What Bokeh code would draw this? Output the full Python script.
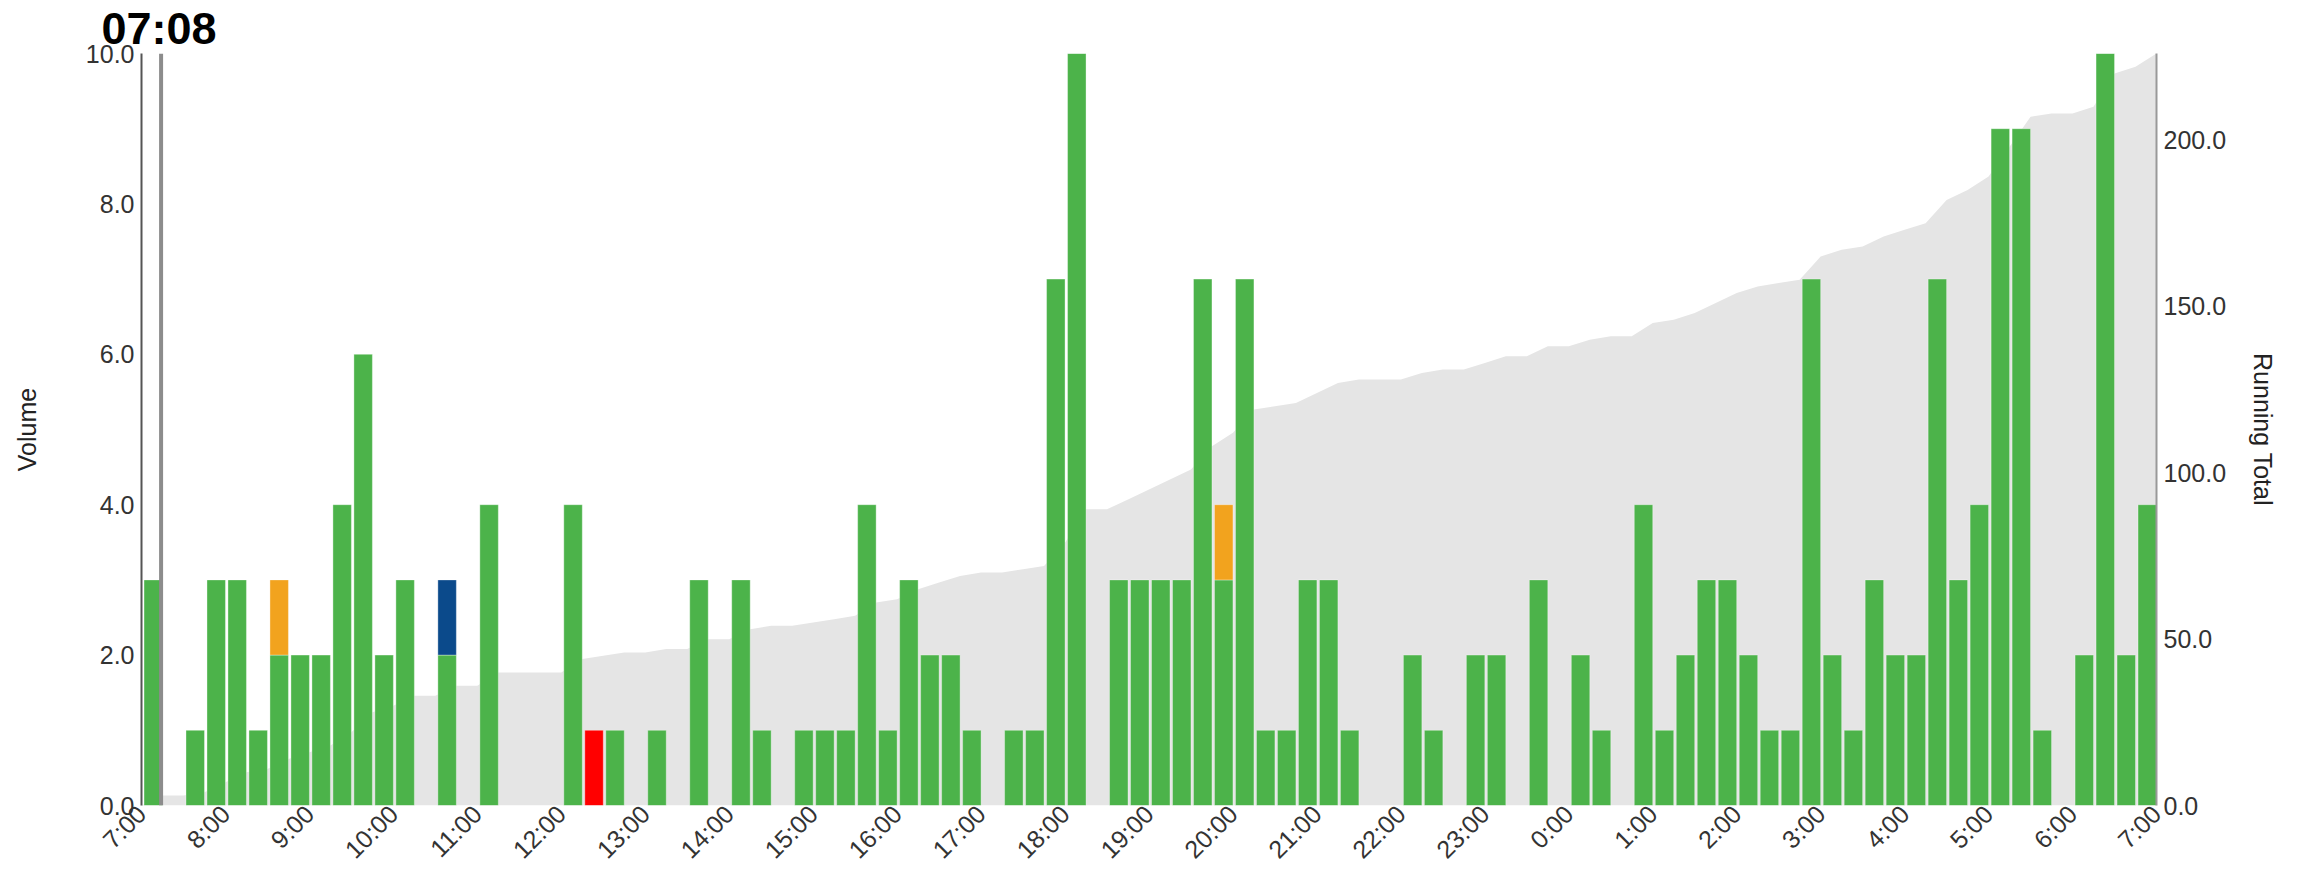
import math
import numpy as np
from bokeh.plotting import figure
from bokeh.models import (Range1d, LinearAxis, FixedTicker, Span,
                          NumeralTickFormatter)
from bokeh.embed import file_html
from bokeh.resources import INLINE

# ---------------- data ----------------
title_text = "07:08"
bin_minutes = 15
hour_labels = ["7:00", "8:00", "9:00", "10:00", "11:00", "12:00", "13:00",
               "14:00", "15:00", "16:00", "17:00", "18:00", "19:00", "20:00",
               "21:00", "22:00", "23:00", "0:00", "1:00", "2:00", "3:00",
               "4:00", "5:00", "6:00", "7:00"]

# green volume per 15-minute bin, starting 7:00
green = [
    3, 0, 1, 3, 3, 1, 2, 2, 2, 4, 6, 2, 3, 0, 2, 0,
    4, 0, 0, 0, 4, 0, 1, 0, 1, 0, 3, 0, 3, 1, 0, 1,
    1, 1, 4, 1, 3, 2, 2, 1, 0, 1, 1, 7, 10, 0, 3, 3,
    3, 3, 7, 3, 7, 1, 1, 3, 3, 1, 0, 0, 2, 1, 0, 2,
    2, 0, 3, 0, 2, 1, 0, 4, 1, 2, 3, 3, 2, 1, 1, 7,
    2, 1, 3, 2, 2, 7, 3, 4, 9, 9, 1, 0, 2, 10, 2, 4,
]
orange_bins = [6, 51]
orange_vals = [1, 1]
blue_bins = [14]
blue_vals = [1]
red_bins = [21]
red_vals = [1]

now_minute = 14          # marker line (minutes after 7:00)
volume_ticks = [0, 2, 4, 6, 8, 10]
total_ticks = [0, 50, 100, 150, 200]

# ---------------- derived ----------------
n = len(green)
g = np.array(green, dtype=float)
o = np.zeros(n); o[orange_bins] = orange_vals
b = np.zeros(n); b[blue_bins] = blue_vals
r = np.zeros(n); r[red_bins] = red_vals
per_bin = g + o + b + r
cum = np.cumsum(per_bin)

starts = np.arange(n) * bin_minutes
ends = starts + bin_minutes

GREEN = "#4cb34a"
ORANGE = "#f2a31e"
BLUE = "#0b4a8b"
RED = "#ff0000"
FONT = "Liberation Sans"

p = figure(frame_width=2015, frame_height=752,
           x_range=Range1d(0, n * bin_minutes), y_range=Range1d(0, 10),
           output_backend="svg", toolbar_location=None,
           min_border_left=141, min_border_right=130,
           min_border_top=10, min_border_bottom=64)
p.extra_y_ranges = {"total": Range1d(0, float(cum[-1]))}
p.outline_line_color = None
p.xgrid.grid_line_color = None
p.ygrid.grid_line_color = None

# title
p.title.text = title_text
p.title.text_font = FONT
p.title.text_font_size = "45px"
p.title.text_font_style = "bold"
p.title.text_color = "black"
p.title.align = "left"
p.title.offset = -40
p.title.standoff = 0

# running total area
area_x = np.concatenate([[0], ends])
area_y = np.concatenate([[0], cum])
p.varea(x=area_x, y1=0, y2=area_y, y_range_name="total", fill_color="#e5e5e5")

def draw(bottom, height, color):
    m = height > 0
    p.quad(left=starts[m] + 1.8, right=ends[m], bottom=bottom[m],
           top=(bottom + height)[m], fill_color=color,
           line_color="white", line_alpha=0.35, line_width=1)

zero = np.zeros(n)
draw(zero, g, GREEN)
draw(g, o, ORANGE)
draw(g + o, b, BLUE)
draw(g + o + b, r, RED)

p.add_layout(Span(location=now_minute, dimension="height",
                  line_color="#8c8c8c", line_width=4))

# x axis
xa = p.xaxis[0]
xa.ticker = FixedTicker(ticks=[i * 60 for i in range(len(hour_labels))])
xa.major_label_overrides = {i * 60: lab for i, lab in enumerate(hour_labels)}
xa.major_label_orientation = math.pi / 4
xa.axis_line_color = None
xa.major_tick_line_color = None
xa.minor_tick_line_color = None
xa.major_tick_in = 0
xa.major_tick_out = 0
xa.major_label_standoff = 4
xa.major_label_text_font = FONT
xa.major_label_text_font_size = "25px"
xa.major_label_text_color = "#333333"

# left axis
ya = p.yaxis[0]
ya.ticker = FixedTicker(ticks=volume_ticks)
ya.formatter = NumeralTickFormatter(format="0.0")
ya.axis_line_color = "#555555"
ya.axis_line_width = 2
ya.major_tick_line_color = None
ya.minor_tick_line_color = None
ya.major_tick_in = 0
ya.major_tick_out = 0
ya.major_label_standoff = 7
ya.major_label_text_font = FONT
ya.major_label_text_font_size = "25px"
ya.major_label_text_color = "#333333"
ya.axis_label = "Volume"
ya.axis_label_text_font = FONT
ya.axis_label_text_font_size = "25px"
ya.axis_label_text_font_style = "normal"
ya.axis_label_text_color = "#222222"
ya.axis_label_standoff = 42

# right axis
ra = LinearAxis(y_range_name="total", ticker=FixedTicker(ticks=total_ticks),
                formatter=NumeralTickFormatter(format="0.0"))
ra.axis_line_color = "#999999"
ra.axis_line_width = 2
ra.major_tick_line_color = None
ra.minor_tick_line_color = None
ra.major_tick_in = 0
ra.major_tick_out = 0
ra.major_label_standoff = 7
ra.major_label_text_font = FONT
ra.major_label_text_font_size = "25px"
ra.major_label_text_color = "#333333"
ra.axis_label = "Running Total"
ra.axis_label_text_font = FONT
ra.axis_label_text_font_size = "25px"
ra.axis_label_text_font_style = "normal"
ra.axis_label_text_color = "#222222"
ra.axis_label_standoff = 20
p.add_layout(ra, "right")

open("out.html", "w").write(file_html(p, INLINE))
